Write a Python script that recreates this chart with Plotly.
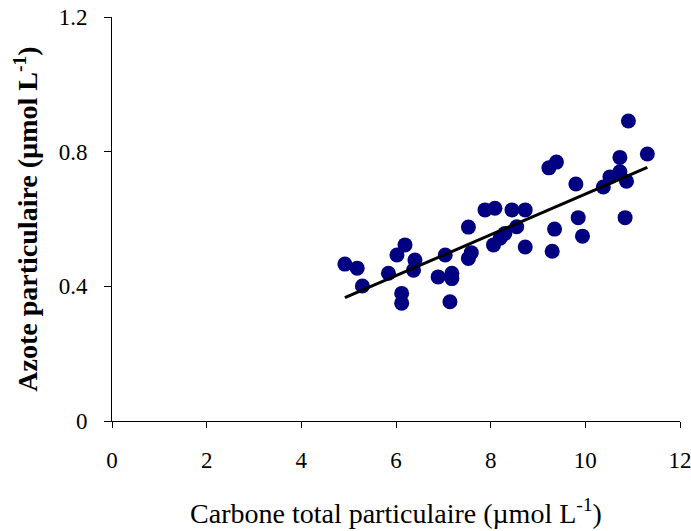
import numpy as np
import plotly.graph_objects as go

# carbone total particulaire (umol/L)
carbone = [4.92, 5.18, 5.29, 5.84, 6.02, 6.19, 6.12, 6.12, 6.40, 6.37,
           6.89, 7.04, 7.18, 7.18, 7.14, 7.53, 7.53, 7.59, 7.88, 8.09,
           8.06, 8.20, 8.30, 8.45, 8.55, 8.73, 8.73, 9.23, 9.39, 9.35,
           9.30, 9.80, 9.85, 9.94, 10.38, 10.52, 10.73, 10.73, 10.87, 10.84,
           10.91, 11.31]
# azote particulaire (umol/L)
azote = [0.466, 0.454, 0.401, 0.439, 0.493, 0.523, 0.379, 0.350, 0.478, 0.448,
         0.428, 0.493, 0.439, 0.423, 0.354, 0.576, 0.483, 0.500, 0.627, 0.632,
         0.523, 0.543, 0.557, 0.627, 0.577, 0.627, 0.517, 0.752, 0.769, 0.570,
         0.504, 0.704, 0.604, 0.549, 0.695, 0.725, 0.783, 0.740, 0.712, 0.604,
         0.891, 0.793]

x_ticks = [0, 2, 4, 6, 8, 10, 12]
y_ticks = [0, 0.4, 0.8, 1.2]

# linear trend (like excel)
a, b = np.polyfit(carbone, azote, 1)
xl = np.array([min(carbone), max(carbone)])
yl = a * xl + b

fig = go.Figure()
fig.add_scatter(x=carbone, y=azote, mode="markers",
                marker=dict(color="#000080", size=15, line=dict(width=0)))
fig.add_scatter(x=xl, y=yl, mode="lines", line=dict(color="black", width=3))

font = "Liberation Serif, Times New Roman, serif"
fig.update_layout(
    width=691, height=531,
    margin=dict(l=112, r=11, t=17, b=110),
    paper_bgcolor="white", plot_bgcolor="white",
    showlegend=False,
    font=dict(family=font, color="black", size=23),
)
fig.update_xaxes(range=[0, 12], tickvals=x_ticks, ticktext=[str(t) for t in x_ticks],
                 showgrid=False, zeroline=False, showline=True, linecolor="black", linewidth=1,
                 ticks="outside", ticklen=6, tickcolor="black", ticklabelstandoff=12,
                 automargin=False, ticklabeloverflow="allow",
                 title=dict(text="Carbone total particulaire (µmol L<sup>-1</sup>)",
                            font=dict(size=28, family=font), standoff=31))
fig.update_yaxes(range=[0, 1.2], tickvals=y_ticks, ticktext=["0", "0.4", "0.8", "1.2"],
                 showgrid=False, zeroline=False, showline=True, linecolor="black", linewidth=1,
                 ticks="outside", ticklen=7, tickcolor="black", ticklabelstandoff=12,
                 automargin=False, ticklabeloverflow="allow",
                 title=dict(text="<b>Azote particulaire (µmol L<sup>-1</sup>)</b>",
                            font=dict(size=28, family=font), standoff=12))

# drop the browser's default 8px body margin
fig.write_html("out.html", config={"displayModeBar": False},
               post_script="document.body.style.margin='0';")
